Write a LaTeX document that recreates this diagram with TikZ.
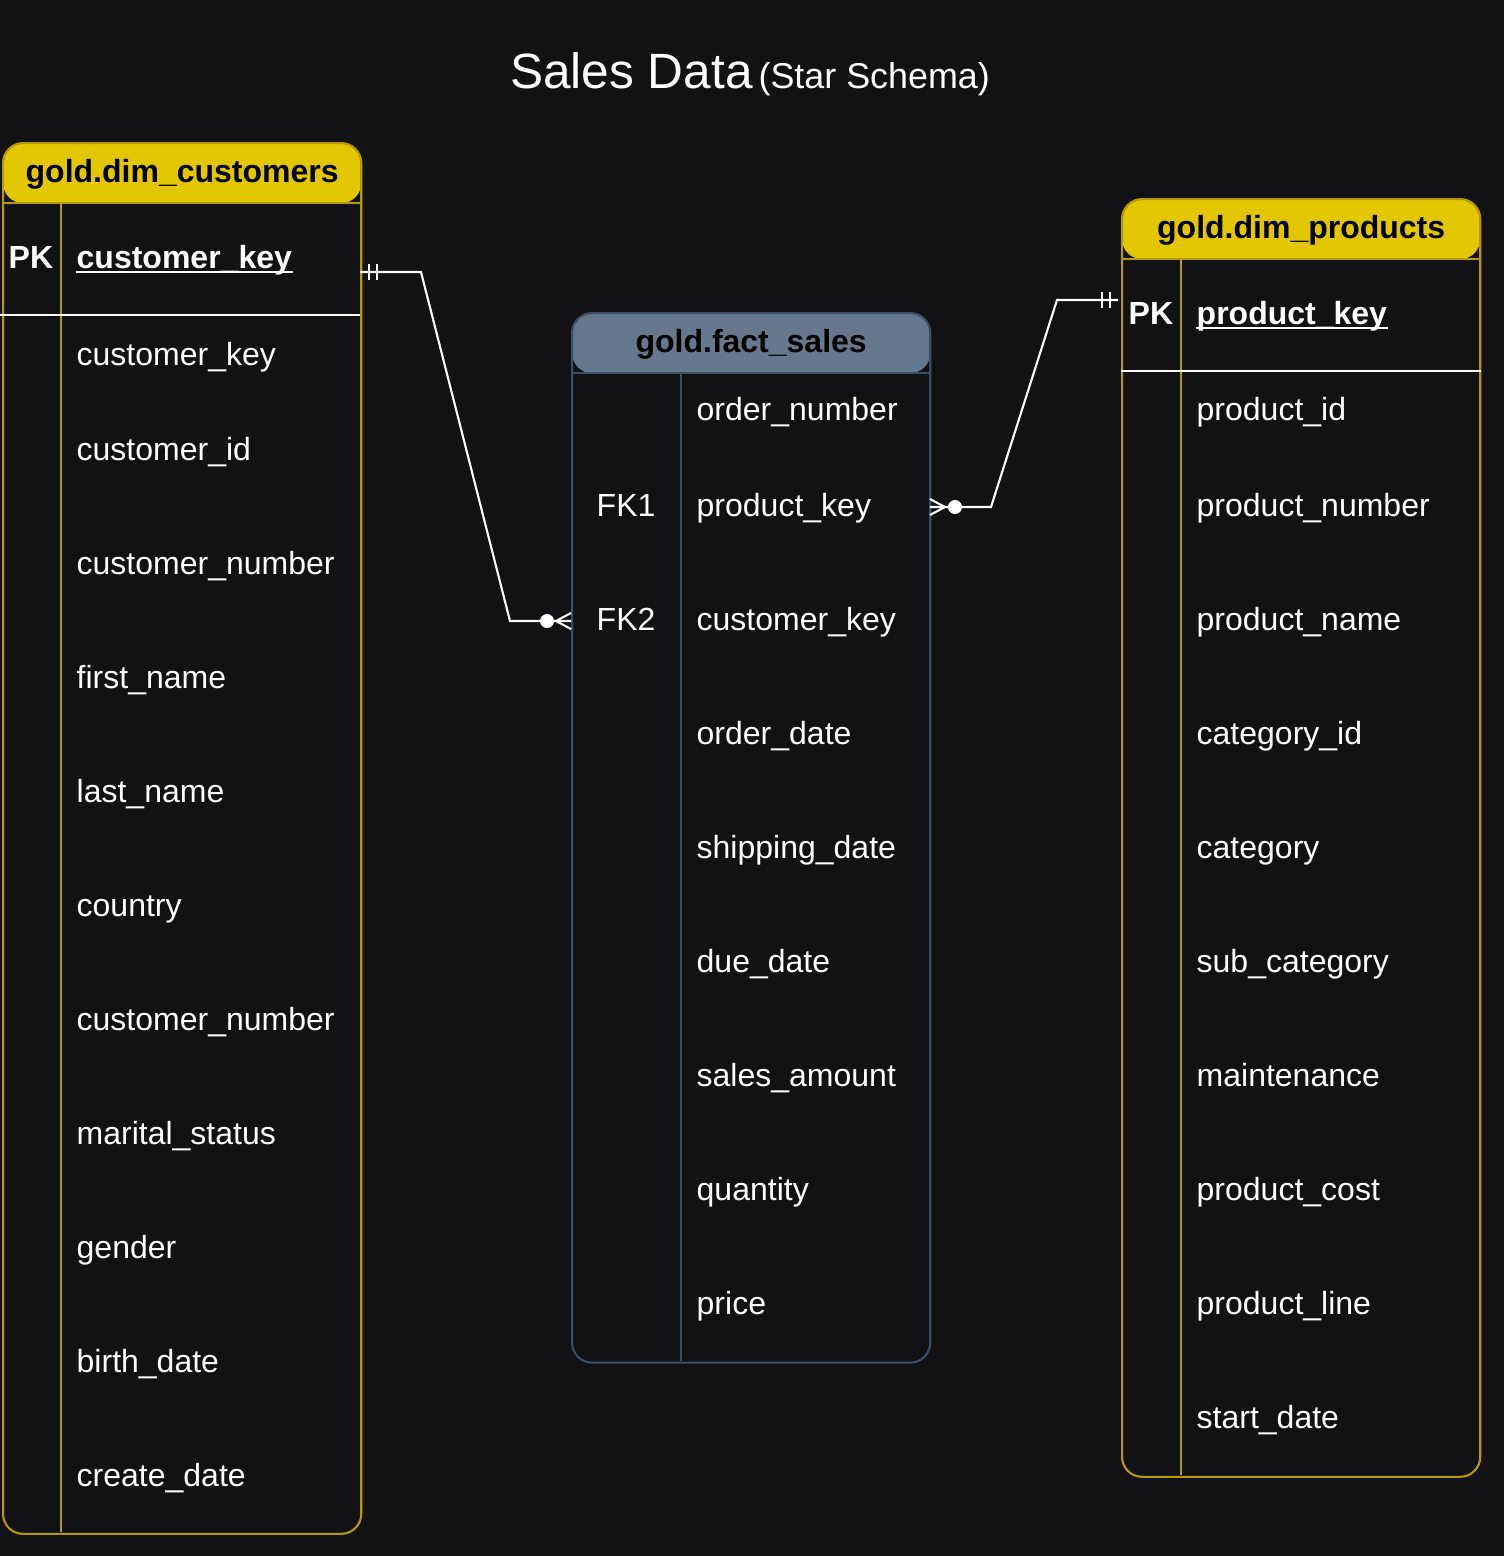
\documentclass[tikz,border=0pt]{standalone}
\usepackage{fontspec}
\setmainfont{Liberation Sans}
\usetikzlibrary{shapes,arrows}
\definecolor{bgcol}{RGB}{18,18,20}
\definecolor{dimhead}{RGB}{226,199,0}
\definecolor{dimborder}{RGB}{181,154,0}
\definecolor{facthead}{RGB}{102,120,140}
\definecolor{factborder}{RGB}{61,79,102}
\newcommand{\fieldfont}{\fontsize{9.1}{11}\selectfont}
\tikzstyle{link} = [draw=white, line width=0.6pt]
\tikzstyle{field} = [anchor=base west, inner sep=0, text=white, font=\fieldfont]
\tikzstyle{keyfield} = [field, font=\fieldfont\bfseries]
\tikzstyle{headtext} = [inner sep=0, text=black, font=\fieldfont\bfseries]
\tikzstyle{dimtable} = [rectangle, draw=dimborder, line width=0.6pt, rounded corners=0.2cm,
inner sep=0, anchor=north west, minimum width=3.58cm,
path picture={\fill[dimhead] (path picture bounding box.north west) rectangle ([yshift=-0.6cm]path picture bounding box.north east);
\draw[dimborder, line width=0.7pt] ([yshift=-0.6cm]path picture bounding box.north west) -- ([yshift=-0.6cm]path picture bounding box.north east);}]
\tikzstyle{facttable} = [dimtable, draw=factborder,
path picture={\fill[facthead] (path picture bounding box.north west) rectangle ([yshift=-0.6cm]path picture bounding box.north east);
\draw[factborder, line width=0.7pt] ([yshift=-0.6cm]path picture bounding box.north west) -- ([yshift=-0.6cm]path picture bounding box.north east);}]
\begin{document}
\begin{tikzpicture}[x=0.01cm, y=-0.01cm]
				\useasboundingbox (0,0) rectangle (1504,1556);
				\fill[bgcol] (0,0) rectangle (1504,1556);

				% Title
				\node (title) [anchor=base, inner sep=0, text=white] at (750,88) {{\fontsize{14.1}{16}\selectfont Sales Data}\,{\fontsize{10.2}{12}\selectfont (Star Schema)}};

				% Place tables
				\node (customers) [dimtable, minimum height=13.9cm] at (2,142) {};
				\node (facts) [facttable, minimum height=10.49cm] at (571,312) {};
				\node (products) [dimtable, minimum height=12.77cm] at (1121,198) {};

				\node [headtext] at ([yshift=-0.32cm]customers.north) {gold.dim\_customers};
				\node [headtext] at ([yshift=-0.32cm]facts.north) {gold.fact\_sales};
				\node [headtext] at ([yshift=-0.32cm]products.north) {gold.dim\_products};

				% Column dividers
				\draw [dimborder, line width=0.6pt] (61,202) -- (61,1532);
				\draw [factborder, line width=0.6pt] (681,372) -- (681,1361);
				\draw [dimborder, line width=0.6pt] (1181,258) -- (1181,1475);
				\draw [white, line width=0.6pt] (0,315) -- (360,315);
				\draw [white, line width=0.6pt] (1121,371) -- (1481,371);

				% Customer fields
				\node (custpk) [keyfield] at (8,268) {PK};
				\node (custkeypk) [keyfield] at (76,268) {customer\_key};
				\draw [white, line width=0.6pt] ([yshift=-0.04cm]custkeypk.base west) -- ([yshift=-0.04cm]custkeypk.base east);
				\node (custkey) [field] at (76,365) {customer\_key};
				\node (custid) [field] at (76,460) {customer\_id};
				\node (custnumber) [field] at (76,574) {customer\_number};
				\node (firstname) [field] at (76,688) {first\_name};
				\node (lastname) [field] at (76,802) {last\_name};
				\node (country) [field] at (76,916) {country};
				\node (custnumbertwo) [field] at (76,1030) {customer\_number};
				\node (marital) [field] at (76,1144) {marital\_status};
				\node (gender) [field] at (76,1258) {gender};
				\node (birthdate) [field] at (76,1372) {birth\_date};
				\node (createdate) [field] at (76,1486) {create\_date};

				% Fact fields
				\node (ordernumber) [field] at (696,420) {order\_number};
				\node (fkone) [field] at (596,516) {FK1};
				\node (factprodkey) [field] at (696,516) {product\_key};
				\node (fktwo) [field] at (596,630) {FK2};
				\node (factcustkey) [field] at (696,630) {customer\_key};
				\node (orderdate) [field] at (696,744) {order\_date};
				\node (shipdate) [field] at (696,858) {shipping\_date};
				\node (duedate) [field] at (696,972) {due\_date};
				\node (salesamount) [field] at (696,1086) {sales\_amount};
				\node (quantity) [field] at (696,1200) {quantity};
				\node (price) [field] at (696,1314) {price};

				% Product fields
				\node (prodpk) [keyfield] at (1128,324) {PK};
				\node (prodkeypk) [keyfield] at (1196,324) {product\_key};
				\draw [white, line width=0.6pt] ([yshift=-0.04cm]prodkeypk.base west) -- ([yshift=-0.04cm]prodkeypk.base east);
				\node (prodid) [field] at (1196,420) {product\_id};
				\node (prodnumber) [field] at (1196,516) {product\_number};
				\node (prodname) [field] at (1196,630) {product\_name};
				\node (catid) [field] at (1196,744) {category\_id};
				\node (category) [field] at (1196,858) {category};
				\node (subcat) [field] at (1196,972) {sub\_category};
				\node (maintenance) [field] at (1196,1086) {maintenance};
				\node (prodcost) [field] at (1196,1200) {product\_cost};
				\node (prodline) [field] at (1196,1314) {product\_line};
				\node (startdate) [field] at (1196,1428) {start\_date};

				% Link points
				\coordinate (custlink) at (360,272);
				\coordinate (fktwolink) at (571,621);
				\coordinate (fkonelink) at (930,507);
				\coordinate (prodlink) at (1118,300);

				% Draw relations
				\draw [link] (custlink) -- (421,272) -- (510,621) -- (fktwolink);
				\draw [link] (custlink) ++(9,-8) -- ++(0,16);
				\draw [link] (custlink) ++(17,-8) -- ++(0,16);
				\fill [white] (fktwolink) ++(-24,0) circle (0.07cm);
				\draw [link] (fktwolink) ++(0,-8) -- ++(-15,8) -- ++(15,8);

				\draw [link] (fkonelink) -- (991,507) -- (1057,300) -- (prodlink);
				\draw [link] (prodlink) ++(-16,-8) -- ++(0,16);
				\draw [link] (prodlink) ++(-8,-8) -- ++(0,16);
				\fill [white] (fkonelink) ++(25,0) circle (0.07cm);
				\draw [link] (fkonelink) ++(0,-8) -- ++(15,8) -- ++(-15,8);

			\end{tikzpicture}
\end{document}
